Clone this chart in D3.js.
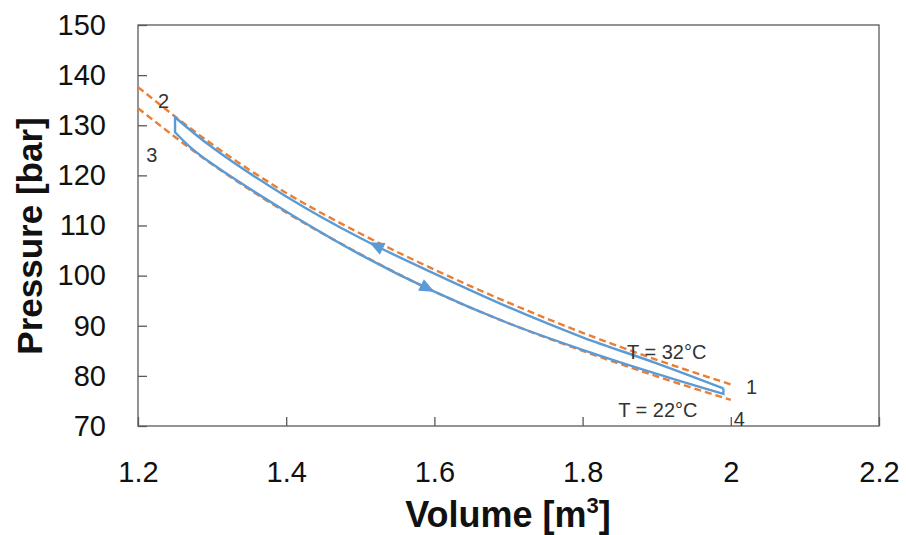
<!DOCTYPE html>
<html>
<head>
<meta charset="utf-8">
<script src="https://cdn.jsdelivr.net/npm/d3@7"></script>
<style>
  html, body { margin: 0; padding: 0; background: #ffffff; }
  svg { display: block; }
</style>
</head>
<body>
<svg id="chart" width="906" height="535"></svg>
<script>
// ---------- data ----------
const xTicks = [1.2, 1.4, 1.6, 1.8, 2.0, 2.2];
const yTicks = [70, 80, 90, 100, 110, 120, 130, 140, 150];

// isotherms (orange dashed)
const isoV = [1.2, 1.3, 1.4, 1.5, 1.6, 1.7, 1.8, 1.9, 2.0];
const iso32P = [137.6, 126.2, 116.5, 108.4, 101.2, 94.6, 88.6, 83.2, 78.3];
const iso22P = [133.4, 122.2, 112.6, 104.3, 96.8, 90.5, 85.0, 79.9, 75.2];

// cycle (blue): 1 -> 2 along upper branch, 2 -> 3 vertical, 3 -> 4 along lower branch, 4 -> 1 vertical
const upperV = [1.99, 1.9, 1.8, 1.7, 1.6, 1.5, 1.4, 1.3, 1.25];
const upperP = [77.5, 82.5, 87.7, 93.7, 100.4, 107.5, 115.8, 125.6, 131.6];
const lowerV = [1.25, 1.27, 1.3, 1.4, 1.5, 1.6, 1.7, 1.8, 1.9, 1.99];
const lowerP = [128.6, 125.7, 122.3, 112.8, 104.2, 96.8, 90.5, 85.2, 80.4, 76.4];

// arrow heads on the cycle: tip volume, branch, direction of travel (+1 = increasing V)
const arrowV = [1.512, 1.60];
const arrowBranch = ["upper", "lower"];
const arrowDir = [-1, 1];

// annotations
const noteText = ["2", "3", "1", "4", "T = 32°C", "T = 22°C"];
const noteV = [1.227, 1.211, 2.0205, 2.004, 1.860, 1.848];
const noteP = [133.4, 122.7, 76.4, 70.0, 83.4, 71.8];

// ---------- drawing ----------
const svg = d3.select("#chart");
const mLeft = 138, mRight = 879, mTop = 25, mBottom = 426;
const x = d3.scaleLinear().domain([1.2, 2.2]).range([mLeft, mRight]);
const y = d3.scaleLinear().domain([70, 150]).range([mBottom, mTop]);

const frameColor = "#595959";
const orange = "#ED7D31";
const blue = "#5B9BD5";
const font = "Liberation Sans, Arial, sans-serif";

// frame
svg.append("rect")
  .attr("x", mLeft).attr("y", mTop)
  .attr("width", mRight - mLeft).attr("height", mBottom - mTop)
  .attr("fill", "none").attr("stroke", frameColor).attr("stroke-width", 1.3);

// axes with inward ticks
const xAxis = d3.axisBottom(x).tickValues(xTicks).tickSize(-9).tickPadding(35)
  .tickFormat(d => String(+d.toFixed(1)));
const gx = svg.append("g").attr("transform", `translate(0,${mBottom})`).call(xAxis);
gx.select(".domain").remove();
gx.selectAll(".tick line").attr("stroke", frameColor).attr("stroke-width", 1.3);
gx.selectAll(".tick text")
  .attr("font-family", font)
  .attr("font-size", 29).attr("fill", "#111").attr("dy", "0.71em");

const yAxis = d3.axisLeft(y).tickValues(yTicks).tickSize(-9).tickPadding(32);
const gy = svg.append("g").attr("transform", `translate(${mLeft},0)`).call(yAxis);
gy.select(".domain").remove();
gy.selectAll(".tick line").attr("stroke", frameColor).attr("stroke-width", 1.3);
gy.selectAll(".tick text")
  .attr("font-family", font)
  .attr("font-size", 29).attr("fill", "#111");

// axis titles
svg.append("text")
  .attr("transform", "translate(42,236) rotate(-90)")
  .attr("text-anchor", "middle")
  .attr("font-family", font)
  .attr("font-weight", "bold").attr("font-size", 35).attr("fill", "#111")
  .text("Pressure [bar]");

const xt = svg.append("text")
  .attr("x", 508).attr("y", 527)
  .attr("text-anchor", "middle")
  .attr("font-family", font)
  .attr("font-weight", "bold").attr("font-size", 36).attr("fill", "#111");
xt.append("tspan").text("Volume [m");
xt.append("tspan").attr("font-size", 22).attr("dy", -14).text("3");
xt.append("tspan").attr("dy", 14).text("]");

// isotherms
const isoLine = d3.line().x(d => x(d[0])).y(d => y(d[1])).curve(d3.curveMonotoneX);
[iso32P, iso22P].forEach(P => {
  svg.append("path")
    .attr("d", isoLine(isoV.map((v, i) => [v, P[i]])))
    .attr("fill", "none").attr("stroke", orange)
    .attr("stroke-width", 2.4).attr("stroke-dasharray", "7,4");
});

// cycle
const branchLine = d3.line().x(d => x(d[0])).y(d => y(d[1])).curve(d3.curveCatmullRom);
const upperPts = upperV.map((v, i) => [v, upperP[i]]);
const lowerPts = lowerV.map((v, i) => [v, lowerP[i]]);
const straight = d3.line().x(d => x(d[0])).y(d => y(d[1]));
const cycleD = branchLine(upperPts) +
  straight([upperPts[upperPts.length - 1], lowerPts[0]]).replace(/^M[^L]*/, "") +
  branchLine(lowerPts).replace(/^M[^CL]*/, "") +
  straight([lowerPts[lowerPts.length - 1], upperPts[0]]).replace(/^M[^L]*/, "");
svg.append("path")
  .attr("d", cycleD)
  .attr("fill", "none").attr("stroke", blue)
  .attr("stroke-width", 2.4).attr("stroke-linejoin", "miter");

// arrow heads
function branchP(branch, v) {
  const V = branch === "upper" ? upperV.slice().reverse() : lowerV;
  const P = branch === "upper" ? upperP.slice().reverse() : lowerP;
  return d3.scaleLinear().domain(V).range(P)(v);
}
arrowV.forEach((v, i) => {
  const br = arrowBranch[i], dir = arrowDir[i];
  const tx = x(v), ty = y(branchP(br, v));
  const bx = x(v - dir * 0.02), by = y(branchP(br, v - dir * 0.02));
  const ang = Math.atan2(ty - by, tx - bx) * 180 / Math.PI;
  svg.append("path")
    .attr("d", "M0,0 L-15,-6.5 L-15,6.5 Z")
    .attr("transform", `translate(${tx},${ty}) rotate(${ang})`)
    .attr("fill", blue);
});

// annotations
noteText.forEach((t, i) => {
  svg.append("text")
    .attr("x", x(noteV[i])).attr("y", y(noteP[i]))
    .attr("font-family", font)
    .attr("font-size", 20).attr("fill", "#333")
    .text(t);
});
</script>
</body>
</html>
